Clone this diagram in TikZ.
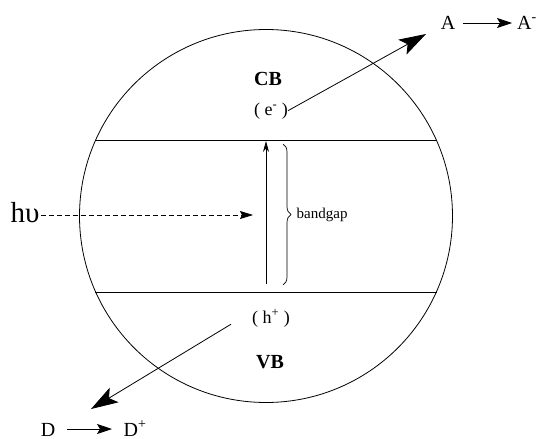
\documentclass[tikz,border=0pt]{standalone}
\usepackage{fontspec}
\setmainfont{Liberation Serif}
\usetikzlibrary{arrows.meta,positioning,calc,decorations.pathreplacing}

\tikzset{
  bandline/.style={line width=0.8pt},
  species/.style={font=\fontsize{20}{22}\selectfont,inner sep=0pt,anchor=base},
  carrier/.style={font=\fontsize{18}{20}\selectfont,inner sep=0pt,anchor=base},
  bandname/.style={font=\fontsize{20}{22}\selectfont\bfseries,inner sep=0pt,anchor=base},
  bigtip/.style={-{Stealth[length=27pt,width=17pt,inset=6pt]}},
  smalltip/.style={-{Stealth[length=15pt,width=10pt,inset=3pt]}},
}

\begin{document}
\begin{tikzpicture}[x=1pt,y=-1pt,node distance=2mm]
        \useasboundingbox (0,0) rectangle (539,439);
        \node[draw,circle,line width=0.8pt,minimum size=373pt,inner sep=0pt] (cell) at (266,216) {};
        % conduction and valence band edges
        \draw[bandline] (cell.156) -- (cell.24);
        \draw[bandline] (cell.204) -- (cell.336);

        \node[bandname] (cb) at (268,85) {CB};
        \node[carrier] (elec) at (271,115) {( e\textsuperscript{-} )};
        \node[carrier] (hole) at (271,323) {( h\textsuperscript{+} )};
        \node[bandname] (vb) at (270,368) {VB};

        % light absorption
        \node[font=\fontsize{29}{31}\selectfont,inner sep=1pt,anchor=base] (hv) at (25,222) {hυ};
        \coordinate (hvend) at (253,215);
        \draw[line width=0.7pt,dash pattern=on 5pt off 3pt,-{Stealth[length=13pt,width=8pt,inset=2pt]}]
          (hv.east |- hvend) -- (hvend);

        % excitation across the gap
        \coordinate (vbot) at (266,284);
        \coordinate (vtop) at (266,141);
        \draw[line width=0.8pt,-{Stealth[length=11pt,width=6pt]}] (vbot) -- (vtop);
        \draw[decorate,decoration={brace,amplitude=8pt},line width=0.7pt]
          (283,144) -- (283,285) node[midway,right=10pt,font=\fontsize{15}{17}\selectfont] (gap) {bandgap};

        % reduction at the surface
        \coordinate (atip) at (426,34);
        \draw[line width=0.8pt,bigtip] (elec.east) -- (atip);
        \node[species] (a) at (448,29) {A};
        \node[species] (am) at (527,29) {A\textsuperscript{-}};
        \draw[line width=0.8pt,smalltip] (463,23) -- (512,23);

        % oxidation at the surface
        \coordinate (dtip) at (91,409);
        \draw[line width=0.8pt,bigtip] ($(hole.west)+(-21,6)$) -- (dtip);
        \node[species] (d) at (48,436) {D};
        \node[species] (dp) at (135,436) {D\textsuperscript{+}};
        \draw[line width=0.8pt,smalltip] (67,429) -- (112,429);
      \end{tikzpicture}
\end{document}
